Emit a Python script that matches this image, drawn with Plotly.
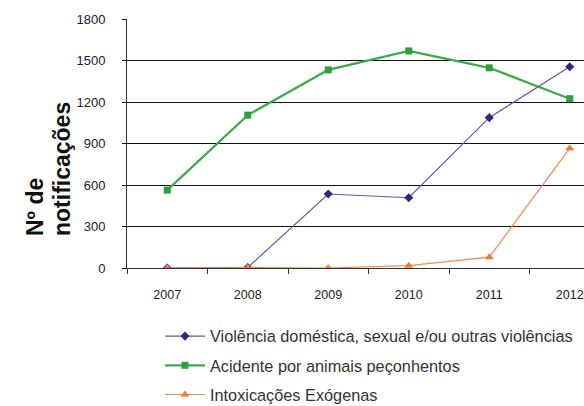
import plotly.graph_objects as go

years = ["2007", "2008", "2009", "2010", "2011", "2012"]
violencia = [0, 4, 535, 508, 1087, 1455]
acidente = [563, 1105, 1432, 1569, 1447, 1224]
intoxicacoes = [0, 3, 0, 17, 78, 865]

names = [
    "Violência doméstica, sexual e/ou outras violências",
    "Acidente por animais peçonhentos",
    "Intoxicações Exógenas",
]
y_ticks = [0, 300, 600, 900, 1200, 1500, 1800]

W, H = 584, 406
L, T, B = 127, 19, 138
plot_w = W - L
cat_px = 80.5
sans = "Liberation Sans, Arial, sans-serif"

fig = go.Figure()
fig.add_trace(go.Scatter(
    x=years, y=violencia, name=names[0], mode="lines+markers", legendgroup="a",
    line=dict(color="#5B5BAF", width=1.2),
    marker=dict(symbol="diamond", size=7, color="#2B2B85"),
))
fig.add_trace(go.Scatter(
    x=years, y=acidente, name=names[1], mode="lines+markers", legendgroup="b",
    line=dict(color="#3DAA4B", width=2.2),
    marker=dict(symbol="square", size=7, color="#2E9E3E"),
))
fig.add_trace(go.Scatter(
    x=years, y=intoxicacoes, name=names[2], mode="lines+markers", legendgroup="c",
    line=dict(color="#F5894E", width=1.2),
    marker=dict(symbol="triangle-up", size=8, color="#F07A3A"),
))

def px_x(p):
    return (p - L) / plot_w

def px_y(p):
    return (H - B - p) / (H - T - B)

fig.update_layout(
    width=W, height=H,
    margin=dict(l=L, r=0, t=T, b=B, pad=0, autoexpand=False),
    paper_bgcolor="white", plot_bgcolor="white",
    font=dict(family=sans, color="#222222"),
    showlegend=True,
    legend=dict(
        x=px_x(160), y=1 - 319 / H, yref="container", xanchor="left", yanchor="top",
        font=dict(size=16.3, color="#333333", family=sans),
        tracegroupgap=5, itemwidth=40, bgcolor="rgba(0,0,0,0)",
    ),
    xaxis=dict(
        type="category", range=[-0.5, -0.5 + plot_w / cat_px],
        showgrid=False, showline=True, linecolor="#333333", linewidth=1,
        ticks="outside", tickson="boundaries", ticklen=5, tickcolor="#333333",
        tickfont=dict(size=12.5, color="#222222"), ticklabelstandoff=15,
        zeroline=False, automargin=False,
    ),
    yaxis=dict(
        range=[0, 1800], tickvals=y_ticks,
        showgrid=True, gridcolor="#111111", gridwidth=1,
        showline=True, linecolor="#333333", linewidth=1,
        ticks="outside", ticklen=4, tickcolor="#111111",
        tickfont=dict(size=13, color="#222222"), ticklabelstandoff=14,
        zeroline=False, automargin=False,
    ),
    annotations=[
        dict(text="<b>Nº de</b>", textangle=-90, xref="paper", yref="paper",
             x=px_x(35), y=px_y(238), xanchor="center", yanchor="bottom",
             showarrow=False, font=dict(size=23, color="#111111", family=sans)),
        dict(text="<b>notificações</b>", textangle=-90, xref="paper", yref="paper",
             x=px_x(62), y=px_y(238), xanchor="center", yanchor="bottom",
             showarrow=False, font=dict(size=23, color="#111111", family=sans)),
    ],
)

fig.write_html("out.html")
